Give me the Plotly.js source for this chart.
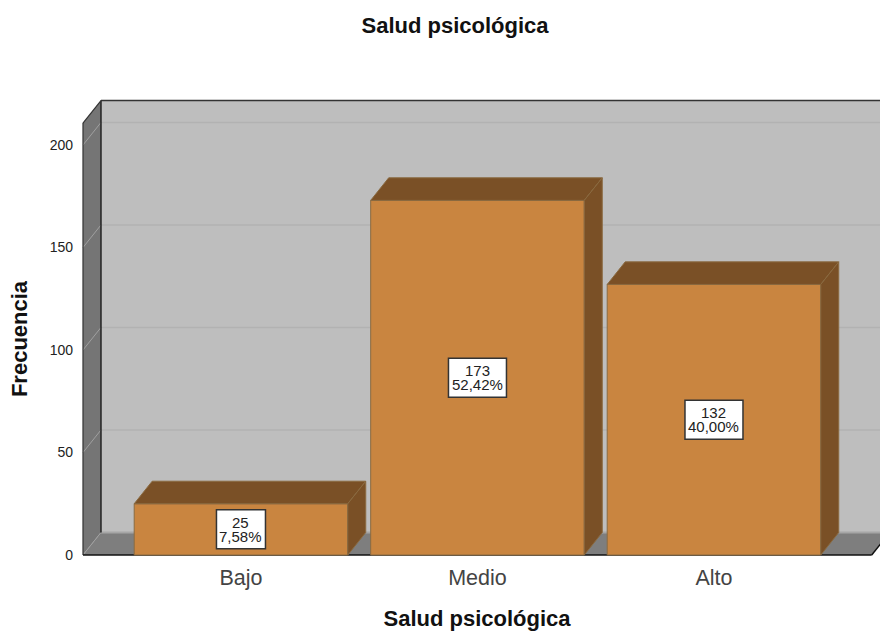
<!DOCTYPE html>
<html>
<head>
<meta charset="utf-8">
<script src="https://cdn.plot.ly/plotly-3.0.1.min.js"></script>
<style>html,body{margin:0;padding:0;background:#fff}#c{width:880px;height:631px}</style>
</head>
<body>
<div id="c"></div>
<script>
const categories = ["Bajo", "Medio", "Alto"];
const counts = [25, 173, 132];
const percents = ["7,58%", "52,42%", "40,00%"];
const yTicks = [0, 50, 100, 150, 200];
const titleText = "Salud psicológica";
const yTitleText = "Frecuencia";

const barWidth = 0.903, depthX = 0.0761, depthY = 11;
const wallL = -0.668, wallR = 2.667, wallTop = 210.7;
const boxW = [49, 58, 58];
const dark = "#7A5026", front = "#C98540", edge = "#8A6A40";

function poly(p, fill, line, lw, layer) {
  return {type:"path", xref:"x", yref:"y", layer:layer||"below",
    path:"M" + p.map(a => a[0] + "," + a[1]).join(" L") + " Z",
    fillcolor:fill, line:{color:line||fill, width:lw===undefined?1:lw}};
}
function seg(a, b, color, w) {
  return {type:"line", xref:"x", yref:"y", layer:"below", x0:a[0], y0:a[1], x1:b[0], y1:b[1],
    line:{color:color, width:w}};
}
const bx = wallL + depthX, bxR = wallR + depthX;
const shapes = [
  poly([[bx,depthY],[bxR,depthY],[bxR,wallTop+depthY],[bx,wallTop+depthY]], "#BEBEBE", "#BEBEBE", 0),
  poly([[wallL,0],[bx,depthY],[bx,wallTop+depthY],[wallL,wallTop]], "#757575", "#757575", 0),
  poly([[wallL,0],[wallR,0],[bxR,depthY],[bx,depthY]], "#7E7E7E", "#7E7E7E", 0)
];
yTicks.forEach(v => {
  shapes.push(seg([bx,v+depthY],[bxR,v+depthY], v===0 ? "#A6A6A6" : "#B2B2B2", v===0 ? 2 : 1.5));
  shapes.push(seg([wallL,v],[bx,v+depthY], "#A0A0A0", 1));
});
shapes.push(seg([bx,depthY],[bx,wallTop+depthY], "#222222", 1.5));
shapes.push(seg([bx,wallTop+depthY],[bxR,wallTop+depthY], "#333333", 1.5));
shapes.push(seg([wallL,wallTop],[bx,wallTop+depthY], "#333333", 1.2));
shapes.push(seg([wallL,0],[wallL,wallTop], "#333333", 1.2));
shapes.push(seg([wallL,0],[wallR,0], "#111111", 1.5));
shapes.push(seg([wallR,0],[bxR,depthY], "#111111", 1.5));

const traces = [{
  type:"bar", x:categories.map((_, i) => i), y:counts, width:barWidth,
  marker:{color:front, line:{color:edge, width:1}}, hoverinfo:"x+y", showlegend:false
}];
counts.forEach((v, i) => {
  const l = i - barWidth/2, r = i + barWidth/2;
  traces.push({type:"scatter", mode:"lines", fill:"toself", fillcolor:dark, showlegend:false, hoverinfo:"skip",
    line:{color:edge, width:1},
    x:[l, r, r+depthX, l+depthX, l], y:[v, v, v+depthY, v+depthY, v]});
  traces.push({type:"scatter", mode:"lines", fill:"toself", fillcolor:dark, showlegend:false, hoverinfo:"skip",
    line:{color:edge, width:1},
    x:[r, r+depthX, r+depthX, r, r], y:[0, depthY, v+depthY, v, 0]});
  shapes.push({type:"rect", layer:"above", xref:"x", yref:"y", xsizemode:"pixel", ysizemode:"pixel",
    xanchor:i, yanchor:v/2, x0:-boxW[i]/2, x1:boxW[i]/2, y0:-19.5, y1:19.5,
    fillcolor:"#FFFFFF", line:{color:"#333333", width:1.5}});
});
const annFont = {family:"Liberation Sans, Arial, sans-serif", size:15, color:"#222222"};
const annotations = [];
counts.forEach((v, i) => {
  annotations.push({x:i, y:v/2, xref:"x", yref:"y", text:String(v), showarrow:false, yshift:7, font:annFont});
  annotations.push({x:i, y:v/2, xref:"x", yref:"y", text:percents[i], showarrow:false, yshift:-7, font:annFont});
});

const layout = {
  width:880, height:631, autosize:false,
  margin:{l:74, r:0, t:95, b:48, pad:0},
  paper_bgcolor:"#FFFFFF", plot_bgcolor:"#FFFFFF",
  bargap:0, showlegend:false, hovermode:false,
  title:{text:titleText, x:455/880, xanchor:"center", y:1-25/631, yanchor:"middle", yref:"container",
    font:{family:"Liberation Sans, Arial, sans-serif", size:22, color:"#111111", weight:"bold"}},
  xaxis:{type:"linear", range:[-0.706, 2.702], tickmode:"array", tickvals:categories.map((_, i) => i), ticktext:categories,
    anchor:"free", position:0.0471,
    showgrid:false, zeroline:false, showline:false, ticks:"", ticklabelstandoff:2,
    tickfont:{family:"Liberation Sans, Arial, sans-serif", size:21.5, color:"#444444"},
    title:{text:titleText, standoff:23, font:{family:"Liberation Sans, Arial, sans-serif", size:22, color:"#111111", weight:"bold"}}},
  yaxis:{range:[-13.66, 224.4], tickmode:"array", tickvals:yTicks, ticktext:yTicks.map(String),
    showgrid:false, zeroline:false, showline:false, ticks:"",
    tickfont:{family:"Liberation Sans, Arial, sans-serif", size:14, color:"#222222"},
    title:{text:yTitleText, standoff:15, font:{family:"Liberation Sans, Arial, sans-serif", size:22, color:"#111111", weight:"bold"}}},
  shapes:shapes, annotations:annotations
};
Plotly.newPlot("c", traces, layout, {displayModeBar:false, staticPlot:true});
</script>
</body>
</html>
